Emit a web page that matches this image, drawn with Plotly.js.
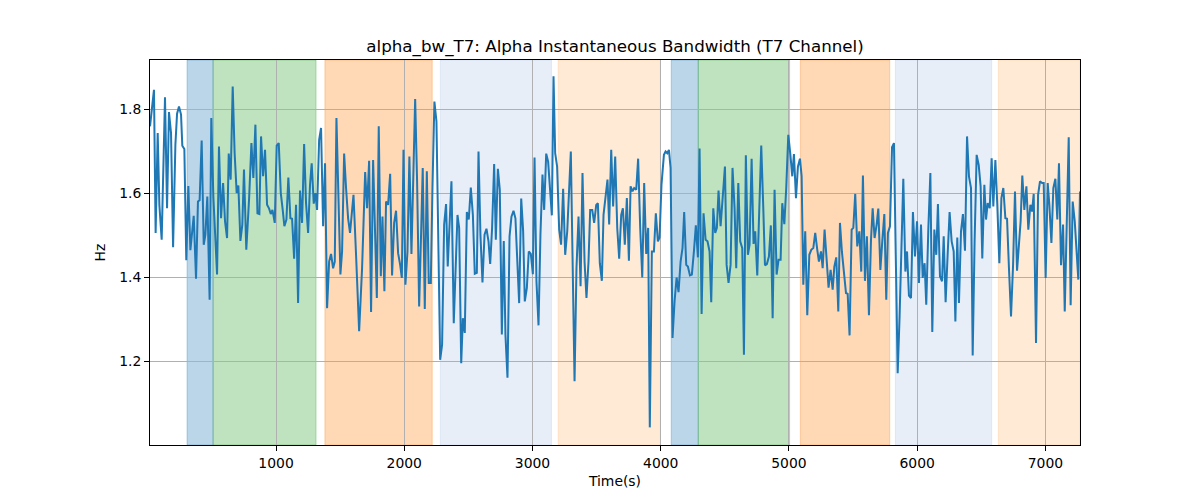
<!DOCTYPE html>
<html>
<head>
<meta charset="utf-8">
<script src="https://cdn.plot.ly/plotly-3.0.1.min.js"></script>
<style>
  body { margin: 0; background: #fff; }
  #myDiv { width: 1200px; height: 500px; }
</style>
</head>
<body>
<div id="myDiv"></div>
<script>
// alpha_bw_T7 trace
const timeSec = [
  17, 48, 61, 77, 90, 108, 134, 150, 165, 181, 197, 215, 228, 243, 259, 269, 285, 300, 316, 332,
  358, 376, 391, 404, 420, 436, 449, 464, 482, 495, 511, 540, 555, 571, 587, 602, 618, 631, 646, 662,
  677, 693, 706, 722, 737, 750, 768, 784,
  790, 808, 823, 839, 855, 870, 883, 899, 914, 930, 946, 959, 972, 990, 1005, 1021, 1037, 1052, 1065, 1081,
  1096, 1112, 1125, 1141, 1156, 1172, 1187, 1203, 1219, 1234, 1250, 1265, 1278, 1294, 1307, 1320, 1336, 1351, 1367, 1382,
  1398, 1414, 1429, 1445, 1458, 1471, 1486, 1502, 1515, 1531, 1546, 1562, 1577,
  1604, 1624, 1648, 1671, 1695, 1710, 1726, 1741, 1757, 1786, 1801, 1817, 1830, 1845, 1858, 1874, 1890, 1905, 1921, 1936,
  1952, 1968, 1981, 1994, 2009, 2025, 2040, 2056, 2072, 2085, 2100, 2116, 2131, 2144, 2160, 2176, 2191, 2207, 2220, 2235,
  2251, 2280, 2295, 2311, 2326, 2339, 2368, 2386,
  2415, 2428, 2444, 2457, 2472, 2488, 2503, 2519, 2535, 2550, 2566, 2579, 2594, 2610, 2626, 2641, 2657, 2670, 2685, 2701,
  2714, 2730, 2745, 2761, 2776, 2789, 2805, 2821, 2836, 2852, 2867, 2880, 2896, 2912, 2927, 2940, 2956, 2971, 2987, 3003,
  3016, 3031, 3047, 3062, 3078, 3091, 3107, 3122, 3135, 3151, 3164, 3177, 3192, 3208, 3223,
  3239, 3255, 3271, 3299, 3328, 3343, 3359, 3375, 3390, 3406, 3421, 3437, 3450, 3466, 3481, 3497, 3510, 3525, 3541, 3554,
  3570, 3585, 3598, 3614, 3629, 3645, 3661, 3676, 3692, 3705, 3720, 3736, 3752, 3765, 3780, 3793, 3809, 3824, 3840, 3856,
  3871, 3887, 3902, 3915, 3931, 3947, 3962, 3978, 3991, 4006, 4025, 4038, 4051, 4064,
  4077, 4092, 4108, 4124, 4139, 4155, 4170, 4183, 4199, 4212, 4228, 4243, 4259, 4274, 4290, 4303, 4319, 4334, 4350, 4365,
  4381, 4394, 4410, 4425, 4438, 4451, 4467, 4485, 4501, 4514, 4529, 4545, 4560, 4576, 4589, 4605, 4620, 4636, 4649, 4664,
  4680, 4693, 4709, 4724, 4737, 4753, 4768, 4784, 4800, 4813, 4828, 4844, 4859,
  4873, 4888, 4904, 4919, 4935, 4948, 4964, 4979, 4995, 5010, 5026, 5039, 5055, 5070, 5086, 5099, 5112, 5127, 5143, 5159,
  5174, 5190, 5205, 5221, 5234, 5250, 5263, 5278, 5294, 5309, 5325, 5341, 5354, 5369, 5385, 5398, 5413, 5429, 5445, 5458,
  5473, 5489, 5502, 5517, 5533, 5549, 5564, 5577, 5593, 5608, 5624, 5640, 5653, 5668, 5684, 5697,
  5713, 5728, 5744, 5759, 5772, 5788, 5804, 5819, 5832, 5848, 5863, 5876, 5892, 5908, 5921, 5936, 5952, 5967, 5983, 5999,
  6014, 6030, 6043, 6058, 6071, 6087, 6103, 6118, 6134, 6149, 6162, 6178, 6194, 6207, 6222, 6238, 6253, 6269, 6285, 6298,
  6313, 6326, 6342, 6357, 6373, 6389, 6404, 6420, 6433, 6448, 6464, 6480, 6495, 6508, 6524,
  6537, 6550, 6566, 6581, 6594, 6610, 6625, 6641, 6657, 6672, 6688, 6701, 6716, 6732, 6748, 6763, 6779, 6794, 6807, 6820,
  6836, 6852, 6867, 6883, 6896, 6909, 6927, 6943, 6958, 6974, 6987, 7002, 7018, 7031, 7047, 7062, 7078, 7093, 7106, 7122,
  7138, 7151, 7166, 7182, 7197, 7213, 7229, 7244, 7257, 7270
];

const bandwidthHz = [
  1.759, 1.846, 1.505, 1.743, 1.572, 1.489, 1.828, 1.564, 1.793, 1.743, 1.471, 1.715, 1.789, 1.806, 1.787, 1.713, 1.705, 1.44, 1.617, 1.464,
  1.546, 1.396, 1.580, 1.583, 1.725, 1.477, 1.501, 1.592, 1.346, 1.779, 1.592, 1.406, 1.711, 1.54, 1.624, 1.533, 1.493, 1.694, 1.632, 1.854,
  1.695, 1.6, 1.618, 1.486, 1.525, 1.656, 1.465, 1.537,
  1.588, 1.719, 1.636, 1.763, 1.552, 1.55, 1.735, 1.640, 1.703, 1.572, 1.563, 1.55, 1.560, 1.529, 1.713, 1.719, 1.6, 1.56, 1.521, 1.537,
  1.637, 1.540, 1.539, 1.444, 1.572, 1.338, 1.606, 1.529, 1.717, 1.576, 1.505, 1.620, 1.671, 1.575, 1.6, 1.56, 1.727, 1.755, 1.521, 1.671,
  1.326, 1.437, 1.455, 1.421, 1.437, 1.779, 1.588, 1.406, 1.461, 1.694, 1.612, 1.540, 1.505,
  1.596, 1.453, 1.271, 1.421, 1.65, 1.564, 1.677, 1.317, 1.679, 1.35, 1.759, 1.402, 1.544, 1.366, 1.58, 1.572, 1.646, 1.404, 1.529, 1.558,
  1.457, 1.429, 1.398, 1.703, 1.382, 1.461, 1.687, 1.455, 1.698, 1.824, 1.628, 1.330, 1.501, 1.660, 1.324, 1.652, 1.386, 1.386, 1.612, 1.818,
  1.771, 1.203, 1.239, 1.525, 1.574, 1.425, 1.628, 1.29,
  1.548, 1.517, 1.195, 1.302, 1.267, 1.555, 1.537, 1.613, 1.548, 1.408, 1.410, 1.699, 1.501, 1.387, 1.501, 1.515, 1.485, 1.431, 1.517, 1.669,
  1.489, 1.658, 1.608, 1.263, 1.486, 1.263, 1.160, 1.497, 1.544, 1.558, 1.540, 1.453, 1.338, 1.587, 1.510, 1.342, 1.374, 1.461, 1.455, 1.407,
  1.685, 1.390, 1.285, 1.501, 1.644, 1.560, 1.694, 1.675, 1.624, 1.547, 1.878, 1.695, 1.663, 1.513, 1.477,
  1.610, 1.453, 1.509, 1.699, 1.152, 1.421, 1.544, 1.378, 1.648, 1.437, 1.35, 1.437, 1.560, 1.560, 1.529, 1.572, 1.576, 1.433, 1.391, 1.548,
  1.6, 1.632, 1.525, 1.703, 1.568, 1.687, 1.517, 1.444, 1.548, 1.564, 1.477, 1.588, 1.439, 1.616, 1.604, 1.612, 1.608, 1.682, 1.517, 1.399,
  1.624, 1.455, 1.517, 1.042, 1.461, 1.461, 1.552, 1.485, 1.494, 1.620, 1.691, 1.699, 1.695, 1.703,
  1.660, 1.255, 1.342, 1.399, 1.364, 1.437, 1.469, 1.555, 1.429, 1.425, 1.404, 1.406, 1.461, 1.523, 1.447, 1.706, 1.312, 1.552, 1.489, 1.485,
  1.461, 1.340, 1.564, 1.505, 1.517, 1.606, 1.521, 1.592, 1.663, 1.429, 1.386, 1.429, 1.660, 1.564, 1.421, 1.624, 1.485, 1.469, 1.215, 1.690,
  1.453, 1.477, 1.682, 1.479, 1.509, 1.404, 1.572, 1.713, 1.564, 1.428, 1.431, 1.449, 1.523,
  1.302, 1.608, 1.406, 1.441, 1.441, 1.576, 1.526, 1.612, 1.739, 1.695, 1.640, 1.693, 1.588, 1.663, 1.682, 1.640, 1.382, 1.509, 1.309, 1.453,
  1.465, 1.469, 1.505, 1.465, 1.437, 1.461, 1.421, 1.513, 1.437, 1.375, 1.417, 1.370, 1.425, 1.447, 1.318, 1.529, 1.461, 1.410, 1.362, 1.360,
  1.261, 1.513, 1.517, 1.598, 1.473, 1.509, 1.413, 1.642, 1.391, 1.497, 1.309, 1.489, 1.564, 1.493, 1.525, 1.563,
  1.417, 1.485, 1.550, 1.346, 1.505, 1.521, 1.709, 1.719, 1.485, 1.171, 1.306, 1.461, 1.634, 1.413, 1.461, 1.356, 1.35, 1.555, 1.449, 1.533,
  1.386, 1.525, 1.398, 1.433, 1.334, 1.513, 1.648, 1.269, 1.513, 1.453, 1.574, 1.402, 1.390, 1.497, 1.340, 1.455, 1.555, 1.485, 1.461, 1.294,
  1.494, 1.338, 1.509, 1.550, 1.463, 1.735, 1.640, 1.612, 1.213, 1.485, 1.691, 1.667, 1.616, 1.444, 1.620,
  1.537, 1.576, 1.564, 1.683, 1.568, 1.679, 1.572, 1.433, 1.588, 1.612, 1.540, 1.539, 1.421, 1.306, 1.428, 1.604, 1.415, 1.469, 1.533, 1.642,
  1.560, 1.616, 1.513, 1.572, 1.556, 1.598, 1.243, 1.596, 1.628, 1.624, 1.624, 1.398, 1.624, 1.572, 1.481, 1.612, 1.634, 1.537, 1.671, 1.428,
  1.525, 1.318, 1.540, 1.733, 1.333, 1.580, 1.533, 1.461, 1.394, 1.604
];

// shaded segments (seconds)
const bandStart = [306, 509, 1381, 2281, 3200, 4082, 4293, 5089, 5830, 6633];
const bandEnd   = [509, 1312, 2218, 3148, 3997, 4293, 5005, 5786, 6581, 7270];
const bandColor = [
  'rgba(31,119,180,0.3)', 'rgba(44,160,44,0.3)', 'rgba(255,127,14,0.3)',
  'rgba(174,199,232,0.3)', 'rgba(255,187,120,0.3)',
  'rgba(31,119,180,0.3)', 'rgba(44,160,44,0.3)', 'rgba(255,127,14,0.3)',
  'rgba(174,199,232,0.3)', 'rgba(255,187,120,0.3)'
];

const shapes = bandStart.map((s, i) => ({
  type: 'rect',
  xref: 'x', yref: 'paper',
  x0: s, x1: bandEnd[i], y0: 0, y1: 1,
  fillcolor: bandColor[i],
  line: { color: bandColor[i], width: 1 },
  layer: 'below'
}));

const trace = {
  x: timeSec,
  y: bandwidthHz,
  mode: 'lines',
  line: { color: '#1f77b4', width: 2 },
  hoverinfo: 'x+y'
};

const font = 'DejaVu Sans, sans-serif';

const layout = {
  width: 1200,
  height: 500,
  margin: { l: 150, r: 120, t: 60, b: 55 },
  paper_bgcolor: '#fff',
  plot_bgcolor: '#fff',
  font: { family: font, size: 14, color: '#000' },
  showlegend: false,
  title: {
    text: 'alpha_bw_T7: Alpha Instantaneous Bandwidth (T7 Channel)',
    font: { family: font, size: 16.7, color: '#000' },
    x: 0.5, xref: 'paper',
    y: 1 - 46 / 500, yref: 'container', yanchor: 'middle'
  },
  xaxis: {
    range: [17, 7270],
    tickvals: [1000, 2000, 3000, 4000, 5000, 6000, 7000],
    ticks: 'outside', ticklen: 5, tickcolor: '#000',
    showline: true, mirror: true, linecolor: '#000', linewidth: 1,
    showgrid: true, gridcolor: '#b0b0b0', gridwidth: 1,
    zeroline: false,
    tickfont: { family: font, size: 13.9 },
    title: { text: 'Time(s)', font: { family: font, size: 13.9 }, standoff: 6 }
  },
  yaxis: {
    range: [1.0, 1.917],
    tickvals: [1.2, 1.4, 1.6, 1.8],
    ticktext: ['1.2', '1.4', '1.6', '1.8'],
    ticks: 'outside', ticklen: 5, tickcolor: '#000',
    showline: true, mirror: true, linecolor: '#000', linewidth: 1,
    showgrid: true, gridcolor: '#b0b0b0', gridwidth: 1,
    zeroline: false,
    tickfont: { family: font, size: 13.9 },
    title: { text: 'Hz', font: { family: font, size: 13.9 }, standoff: 10 }
  },
  shapes: shapes
};

Plotly.newPlot('myDiv', [trace], layout, { displayModeBar: false, staticPlot: true });
</script>
</body>
</html>
